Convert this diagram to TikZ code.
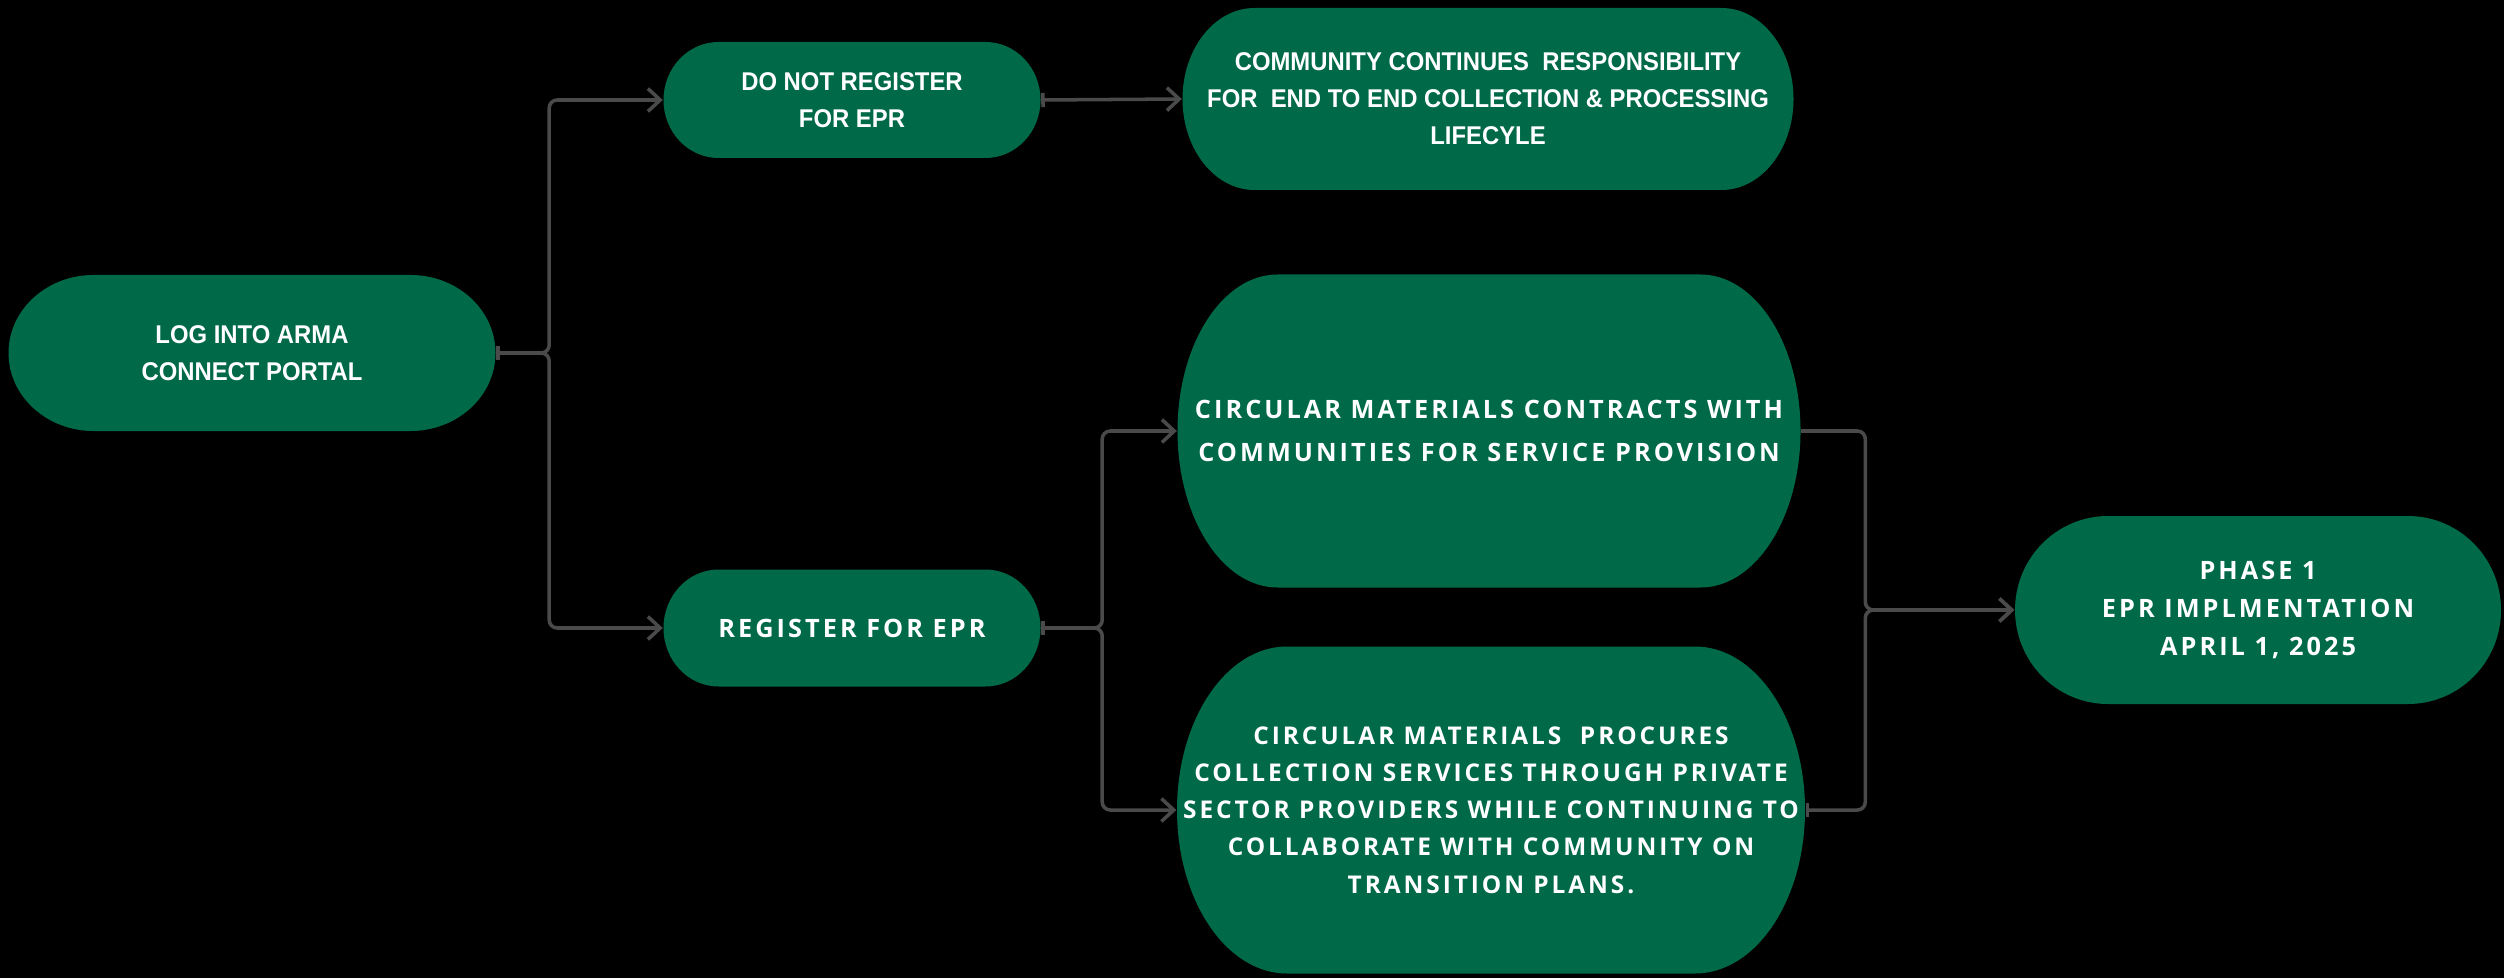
\documentclass[tikz,border=0pt]{standalone}
\usepackage{fontspec}
\setmainfont[FakeStretch=0.93]{Liberation Sans}
\newfontfamily\largeface[LetterSpace=12]{Open Sans}
\usetikzlibrary{arrows.meta,calc}
\definecolor{vert}{RGB}{0,105,72}
\definecolor{trait}{RGB}{74,74,74}

\begin{document}
\begin{tikzpicture}
\tikzset{capsule/.style={inner sep=0pt, align=center, text=white,
    font=\bfseries\fontsize{7.3}{10.5}\selectfont,
    path picture={\fill[vert] let \p1=(path picture bounding box.south west),
      \p2=(path picture bounding box.north east), \n1={(\y2-\y1)/2} in
      (\x1+#1,\y2) -- (\x2-#1,\y2)
      arc[start angle=90, end angle=-90, x radius=#1, y radius=\n1*1pt]
      -- (\x1+#1,\y1)
      arc[start angle=-90, end angle=-270, x radius=#1, y radius=\n1*1pt] -- cycle;}},
  large/.style 2 args={font=\largeface\bfseries\fontsize{#1}{#2}\selectfont},
  fleche/.style={draw=trait, line width=1pt, rounded corners=0.08cm,
    arrows={Bar[width=4pt]-Straight Barb[length=3.5pt,width=6.5pt]}}}
\useasboundingbox (0,0) rectangle (25.04,9.78);
\fill[black] (0,0) rectangle (25.04,9.78);
\node[capsule=0.85cm, minimum width=4.87cm, minimum height=1.56cm] (login) at (2.52,6.25) {LOG INTO ARMA\\CONNECT PORTAL};
\node[capsule=0.55cm, minimum width=3.77cm, minimum height=1.16cm] (noreg) at (8.52,8.78) {DO NOT REGISTER\\FOR EPR};
\node[capsule=0.72cm, minimum width=6.11cm, minimum height=1.82cm] (comm) at (14.88,8.79) {COMMUNITY CONTINUES~ RESPONSIBILITY\\FOR~ END TO END COLLECTION \& PROCESSING\\LIFECYLE};
\node[capsule=0.55cm, minimum width=3.77cm, minimum height=1.17cm, large={7.2}{10.5}] (reg) at (8.52,3.50) {REGISTER FOR EPR};
\node[capsule=1.0cm, minimum width=6.23cm, minimum height=3.13cm, large={7.2}{12.2}] (contracts) at (14.89,5.47) {CIRCULAR MATERIALS CONTRACTS WITH\\COMMUNITIES FOR SERVICE PROVISION};
\node[capsule=1.1cm, minimum width=6.28cm, minimum height=3.27cm, large={6.95}{10.6}] (procures) at (14.91,1.68) {CIRCULAR MATERIALS~ PROCURES\\COLLECTION SERVICES THROUGH PRIVATE\\SECTOR PROVIDERS WHILE CONTINUING TO\\COLLABORATE WITH COMMUNITY ON\\TRANSITION PLANS.};
\node[capsule=0.93cm, minimum width=4.86cm, minimum height=1.88cm, large={7.2}{10.7}] (phase) at (22.58,3.68) {PHASE 1\\EPR IMPLMENTATION\\APRIL 1, 2025};
% branch points
\coordinate (f1) at ([xshift=0.53cm]login.east);
\coordinate (f2) at ([xshift=0.61cm]reg.east);
\coordinate (f3) at ([xshift=-1.49cm]phase.west);
\draw[fleche] (login.east) -- (f1) |- (noreg.west);
\draw[fleche] (login.east) -- (f1) |- (reg.west);
\draw[fleche] (noreg.east) -- (comm.west);
\draw[fleche] (reg.east) -- (f2) |- (contracts.west);
\draw[fleche] (reg.east) -- (f2) |- (procures.west);
\draw[fleche, arrows={-Straight Barb[length=3.5pt,width=6.5pt]}] (contracts.east) -| (f3) -- (phase.west);
\draw[fleche] (procures.east) -| (f3) -- (phase.west);
\end{tikzpicture}
\end{document}
